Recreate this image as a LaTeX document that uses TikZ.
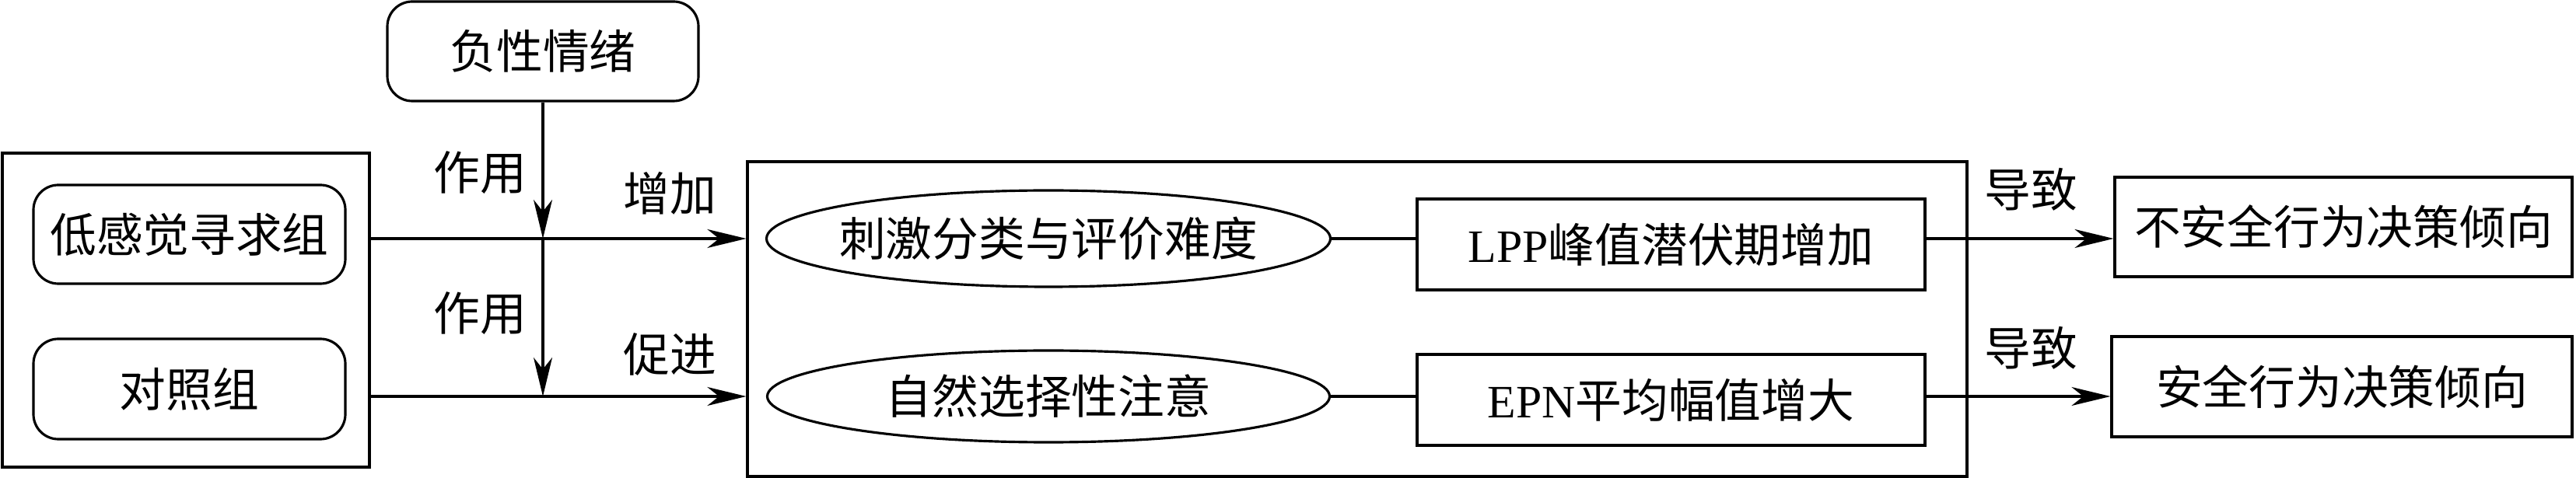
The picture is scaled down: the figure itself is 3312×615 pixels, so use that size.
\documentclass[tikz,border=0pt]{standalone}
\usepackage{fontspec}
\setmainfont{Noto Sans CJK SC}
\newfontfamily\latfont{Liberation Serif}
\usetikzlibrary{arrows.meta}
\usetikzlibrary{shapes}

\begin{document}
\begin{tikzpicture}[x=0.1mm,y=-0.1mm,line width=0.9pt,
  font=\fontsize{17}{20}\selectfont,
  box/.style={draw,inner sep=0pt},
  rbox/.style={draw,rounded corners=3.2mm,inner sep=0pt},
  oval/.style={draw,ellipse,inner xsep=-3mm,inner ysep=0pt},
  arr/.style={-{Stealth[length=5mm,width=2.4mm,inset=1.5mm]}}]
  \useasboundingbox (0,0) rectangle (3312,615);

  % groups
  \node[box,minimum width=47.2mm,minimum height=40.4mm] (grp) at (239,399) {};
  \node[rbox,minimum width=40.1mm,minimum height=12.7mm] (low) at (243.5,301.5) {低感觉寻求组};
  \node[rbox,minimum width=40.1mm,minimum height=12.9mm] (ctrl) at (243.5,500.5) {对照组};
  \node[rbox,minimum width=40mm,minimum height=12.8mm] (neg) at (698,66) {负性情绪};

  % middle
  \node[box,minimum width=156.8mm,minimum height=40.5mm] (mid) at (1745,410.5) {};
  \node[oval,minimum width=72.5mm,minimum height=12.4mm] (ell1) at (1348,307) {刺激分类与评价难度};
  \node[oval,minimum width=72.3mm,minimum height=11.8mm] (ell2) at (1348,510) {自然选择性注意};
  \node[box,minimum width=65.3mm,minimum height=11.7mm] (lpp) at (2148.5,314.5) {{\latfont LPP}峰值潜伏期增加};
  \node[box,minimum width=65.3mm,minimum height=11.7mm] (epn) at (2148.5,514.5) {{\latfont EPN}平均幅值增大};

  % results
  \node[box,minimum width=58.8mm,minimum height=12.8mm] (unsafe) at (3013,292) {不安全行为决策倾向};
  \node[box,minimum width=59.2mm,minimum height=12.9mm] (safe) at (3011,497.5) {安全行为决策倾向};

  % labels
  \node (act1) at (617,222) {作用};
  \node (act2) at (617,403) {作用};
  \node (inc) at (861,249) {增加};
  \node (prom) at (861,456) {促进};
  \node (lead1) at (2611,244) {导致};
  \node (lead2) at (2611,448) {导致};

  % arrows
  \coordinate (j1) at (neg.south |- ell1);
  \coordinate (j2) at (neg.south |- ell2);
  \draw[arr] (neg.south) -- (j1);
  \draw[arr] (j1) -- (j2);
  \draw[arr] (grp.east |- ell1) -- (mid.west |- ell1);
  \draw[arr] (grp.east |- ell2) -- (mid.west |- ell2);
  \draw (ell1.east) -- (ell1.east -| lpp.west);
  \draw (ell2.east) -- (ell2.east -| epn.west);
  \draw[arr] (lpp.east |- ell1) -- (ell1 -| unsafe.west);
  \draw[arr] (epn.east |- ell2) -- (ell2 -| safe.west);
\end{tikzpicture}
\end{document}
